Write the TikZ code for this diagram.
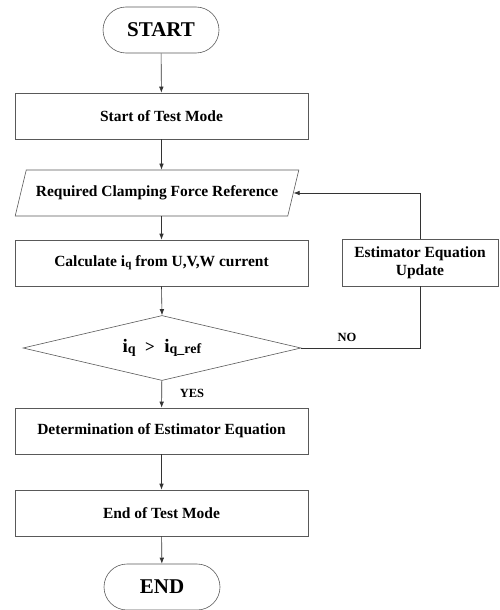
\documentclass[tikz,border=0pt]{standalone}
\usepackage{fontspec}
\setmainfont{Liberation Serif}
\usepackage{tikz}
\usetikzlibrary{shapes.geometric,arrows.meta,positioning}
\newcommand{\subq}[2][11]{\raisebox{-1pt}{\fontsize{#1}{#1}\selectfont #2}}

\begin{document}
\begin{tikzpicture}[x=1pt,y=-1pt,
    font=\bfseries\fontsize{15.5}{18}\selectfont,
    every node/.style={draw=black!65,line width=0.6pt,align=center},
    terminal/.style={rounded corners=23pt,minimum width=116pt,minimum height=46pt,font=\bfseries\fontsize{21}{24}\selectfont},
    process/.style={rectangle,minimum width=293pt,minimum height=46pt},
    io/.style={trapezium,trapezium left angle=64,trapezium right angle=116,trapezium stretches=true,minimum width=284pt,minimum height=46pt,inner xsep=0pt},
    decision/.style={diamond,shape aspect=4.28,minimum width=278pt,minimum height=65pt,inner sep=0pt,font=\bfseries\fontsize{19}{21}\selectfont},
    tag/.style={draw=none,font=\bfseries\fontsize{12.5}{15}\selectfont},
    flow/.style={draw=black!80,line width=0.6pt,-{Latex[length=6pt,width=4.5pt]}}]
    \useasboundingbox (0,0) rectangle (499,610);
    \node[terminal] (start) at (161,30) {START};
    \node[process] (teston) at (161.5,116) {Start of Test Mode};
    \node[io] (force) at (157,193) {Required Clamping Force Reference};
    \node[process] (calc) at (161.5,263) {Calculate i\subq{q} from U,V,W current};
    \node[decision] (cmp) at (162,348) {i\subq[14]{q}\enspace\raisebox{0.5pt}{\fontsize{17}{17}\selectfont >}\enspace i\subq[14]{q\_ref}};
    \node[process,minimum width=156pt,minimum height=47pt] (update) at (420,262.5) {Estimator Equation\\Update};
    \node[process] (determ) at (161.5,431) {Determination of Estimator Equation};
    \node[process] (testoff) at (161.5,513) {End of Test Mode};
    \node[terminal] (stop) at (162,587) {END};
    \node[tag] (no) at (347,337) {NO};
    \node[tag] (yes) at (192,393) {YES};
    \draw[flow] (start) -- (teston);
    \draw[flow] (teston.south) -- (teston.south |- force.north);
    \draw[flow] (teston.south |- force.south) -- (calc.north);
    \draw[flow] (calc.south) -- (cmp.north);
    \draw[flow] (cmp) -- (determ);
    \draw[flow] (determ) -- (testoff);
    \draw[flow] (testoff) -- (stop);
    \draw[draw=black!80,line width=0.6pt] (cmp.east) -| (update.south);
    \draw[flow] (update.north) |- (force.east);
\end{tikzpicture}
\end{document}
